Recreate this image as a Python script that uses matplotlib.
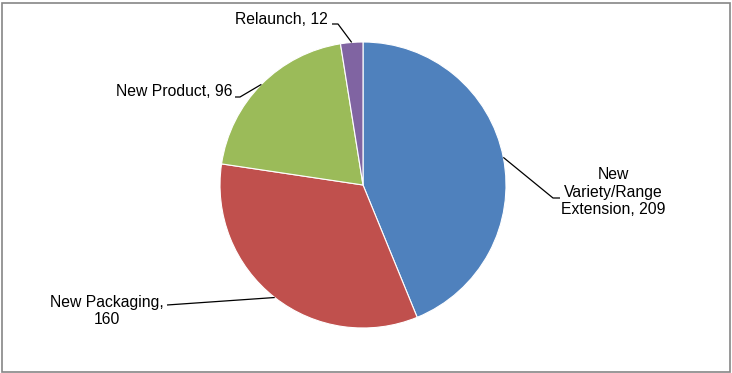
import matplotlib
matplotlib.use("Agg")
import matplotlib.pyplot as plt
from matplotlib.patches import Rectangle
import numpy as np

categories = ["New Variety/Range Extension", "New Packaging", "New Product", "Relaunch"]
values = [209, 160, 96, 12]
colors = ["#4F81BD", "#C0504D", "#9BBB59", "#8064A2"]
label_texts = ["New\nVariety/Range\nExtension, 209", "New Packaging,\n160", "New Product, 96", "Relaunch, 12"]

W, H = 732, 373
plt.rcParams['font.family'] = ['Liberation Sans', 'DejaVu Sans']
fig = plt.figure(figsize=(W / 100, H / 100), dpi=100)
ax = fig.add_axes([0, 0, 1, 1])

cx, cy, r = 363, H - 185, 143
wedges, _ = ax.pie(values, colors=colors, startangle=90, counterclock=False,
                   center=(cx, cy), radius=r, frame=True,
                   wedgeprops=dict(edgecolor='white', linewidth=0.8))
ax.set_xlim(0, W)
ax.set_ylim(0, H)
ax.axis('off')

# label layout (pixel coords, y from top): text anchor, elbow, stub end, alignment
layouts = [
    dict(text=(613, 192), ha='center', elbow=(553, 198), stub=(560, 198)),
    dict(text=(107, 311), ha='center', elbow=(167, 305), stub=(167, 305)),
    dict(text=(233, 91), ha='right', elbow=(240, 97), stub=(235, 97)),
    dict(text=(328, 20), ha='right', elbow=(338, 24), stub=(332, 24)),
]

for w, lab, lay in zip(wedges, label_texts, layouts):
    mid = np.deg2rad((w.theta1 + w.theta2) / 2)
    px, py = cx + r * np.cos(mid), cy + r * np.sin(mid)
    ex, ey = lay['elbow'][0], H - lay['elbow'][1]
    sx, sy = lay['stub'][0], H - lay['stub'][1]
    ax.plot([px, ex, sx], [py, ey, sy], color='black', lw=0.9, solid_capstyle='butt')
    ax.text(lay['text'][0], H - lay['text'][1], lab, ha=lay['ha'], va='center',
            fontsize=11.3, color='black', linespacing=1.2,
            multialignment='center')

fig.patches.append(Rectangle((1.5 / W, 1.5 / H), (W - 4) / W, (H - 4) / H,
                             transform=fig.transFigure, fill=False,
                             edgecolor='#868686', linewidth=1.2))
fig.savefig("out.png", dpi=100, facecolor='white')
